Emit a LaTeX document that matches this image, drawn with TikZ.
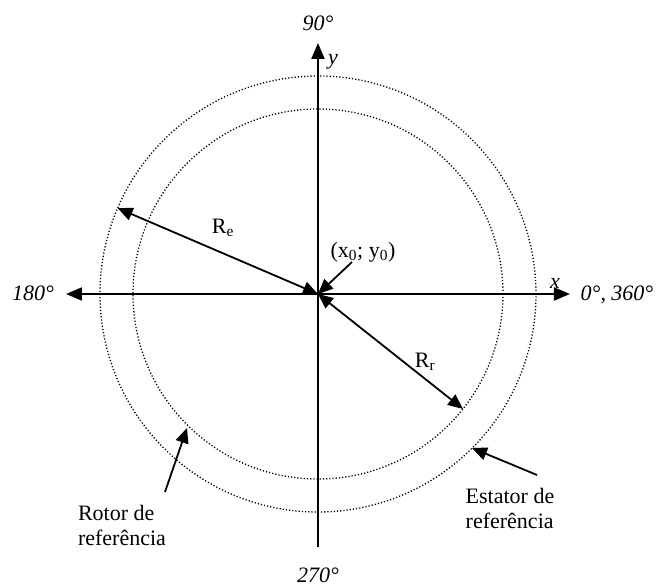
\documentclass[tikz,border=0pt]{standalone}
\usepackage{fontspec}
\setmainfont{Liberation Serif}
\usetikzlibrary{arrows.meta}

\begin{document}
\begin{tikzpicture}[x=1pt, y=1pt,
  ring/.style={line width=1.3pt, dash pattern=on 1.2pt off 2pt},
  axis/.style={line width=2pt, -{Triangle[length=16pt,width=13pt]}},
  dep/.style={line width=1.8pt, -{Triangle[length=15pt,width=13pt]}},
  ddep/.style={line width=1.8pt, {Triangle[length=15pt,width=13pt]}-{Triangle[length=15pt,width=13pt]}},
  lab/.style={font=\fontsize{22}{25}\selectfont, inner sep=0pt, align=left},
  ang/.style={font=\fontsize{22}{25}\selectfont\itshape, inner sep=0pt}
]
  \useasboundingbox (-318,-293) rectangle (339,294);
  \coordinate (O) at (0,0);
  % Reference circles
  \draw[ring] (O) circle (218);
  \draw[ring] (O) circle (185);
  % Axes
  \coordinate (xl) at (-252,0);
  \coordinate (xr) at (252,0);
  \coordinate (yt) at (0,251);
  \coordinate (yb) at (0,-253);
  \draw[axis] (yb) -- (yt);
  \draw[axis] (O) -- (xr);
  \draw[axis] (O) -- (xl);
  % Angle and axis labels
  \node[ang] (a90)  at (0,271)    {90°};
  \node[ang] (a270) at (0,-281)   {270°};
  \node[ang] (a180) at (-285,1)   {180°};
  \node[ang] (a0)   at (299,-1)   {0°, 360°};
  \node[ang] (ly)   at (15,232)   {y};
  \node[ang] (lx)   at (237,11)   {x};
  % Radii
  \coordinate (Pe) at (156.8:218);
  \coordinate (Pr) at (-38.4:185);
  \draw[ddep] (O) -- (Pe);
  \draw[ddep] (O) -- (Pr);
  \node[lab] (Re) at (-95,66)  {R\textsubscript{e}};
  \node[lab] (Rr) at (107,-68) {R\textsubscript{r}};
  % Centre
  \node[lab] (ctr) at (45,42) {(x\textsubscript{0}; y\textsubscript{0})};
  \draw[dep] (34,32) -- (O);
  % Rotor and stator
  \node[lab] (rotor) at (-196,-231)  {Rotor de\\referência};
  \node[lab] (estator) at (192,-214) {Estator de\\referência};
  \coordinate (Tr) at (-131,-134);
  \coordinate (Sr) at (-153,-198);
  \coordinate (Te) at (154,-154);
  \coordinate (Se) at (219,-181);
  \draw[dep] (Sr) -- (Tr);
  \draw[dep] (Se) -- (Te);
\end{tikzpicture}
\end{document}
